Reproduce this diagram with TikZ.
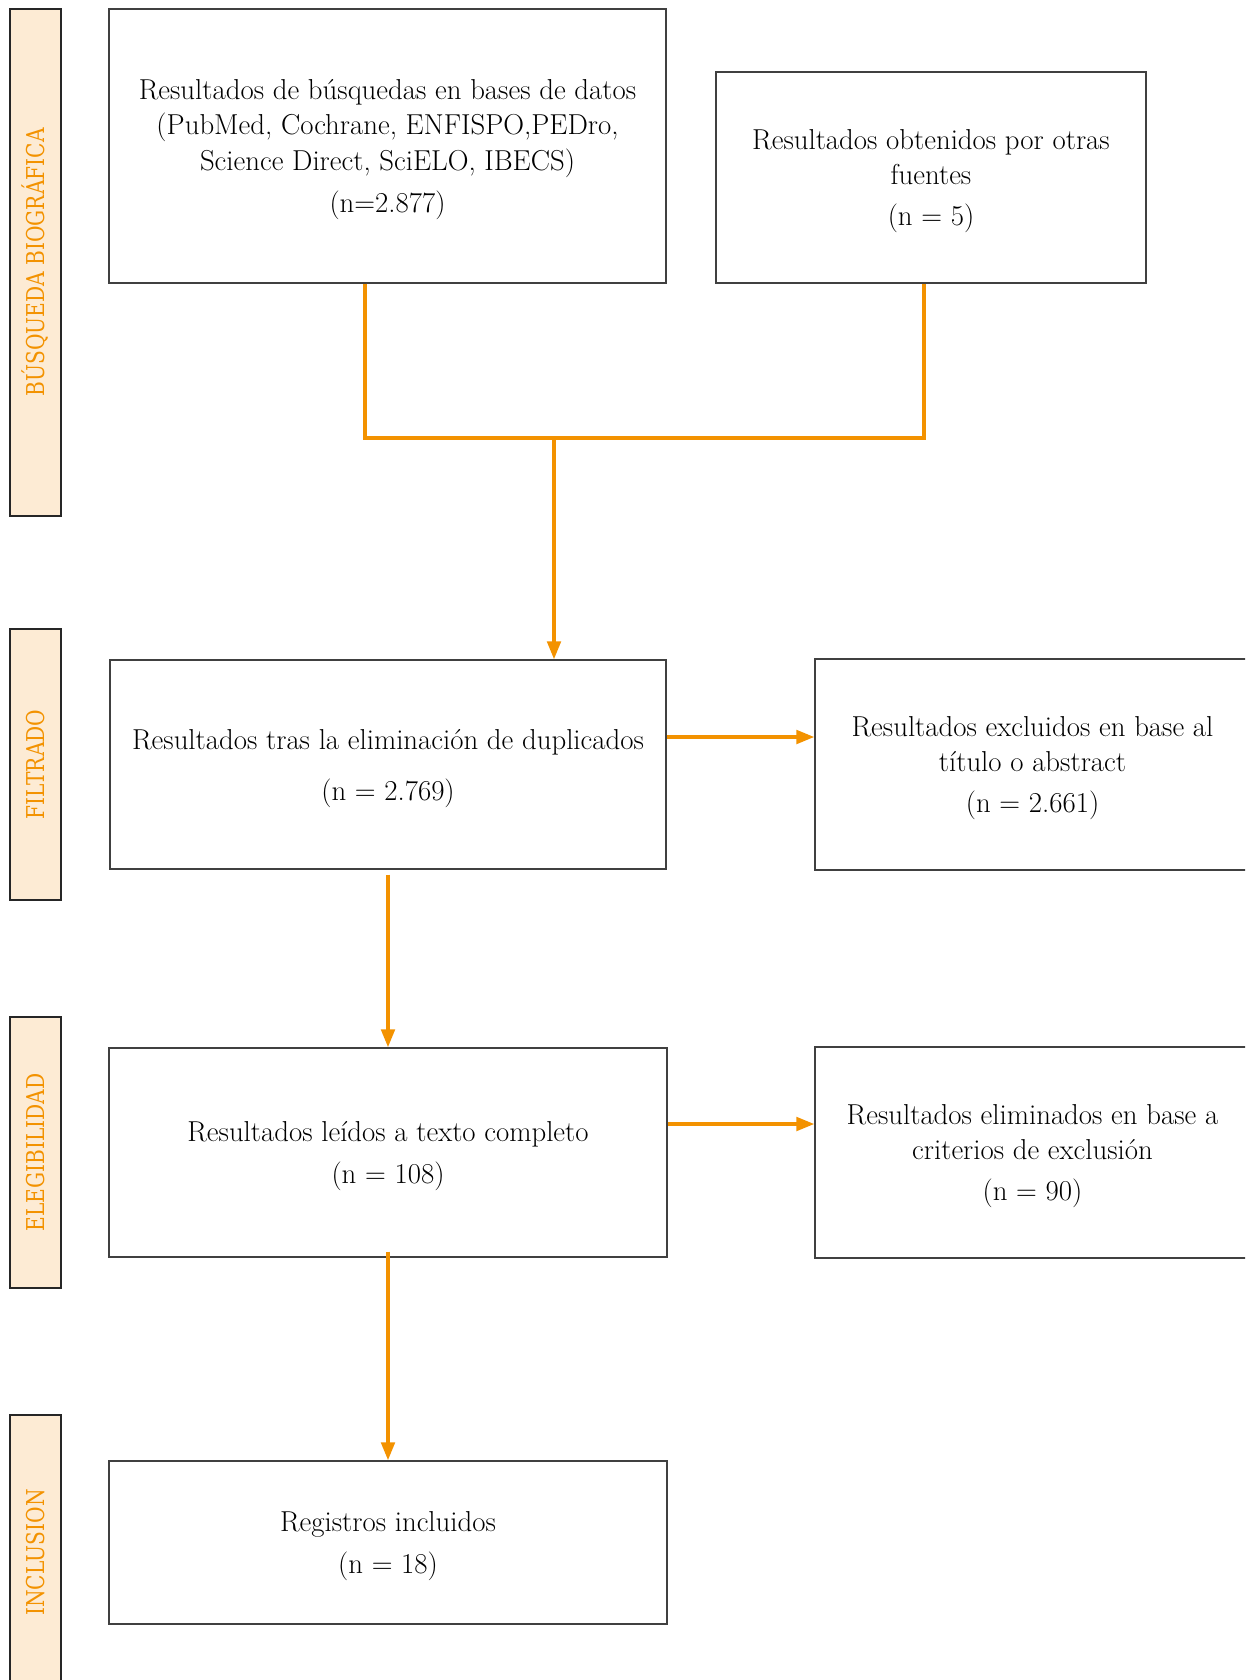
\documentclass[tikz,border=0pt]{standalone}
\usepackage{fontspec}
\newfontfamily\etapafont{DejaVu Serif}[FakeStretch=0.82]
\usetikzlibrary{arrows.meta}

\definecolor{naranja}{RGB}{243,146,0}
\definecolor{crema}{RGB}{253,235,212}
\definecolor{borde}{RGB}{64,64,64}

\tikzset{
  caja/.style={draw=borde, line width=0.8pt, align=center, inner sep=0pt,
    text depth=0pt, font=\fontsize{16.4}{20}\selectfont},
  etapa/.style={draw=black!85, fill=crema, line width=0.8pt, rotate=90,
    minimum height=1.02cm, inner sep=0pt, text=naranja,
    font=\etapafont\fontsize{14}{16}\selectfont},
  linea/.style={naranja, line width=2pt},
  flecha/.style={linea, -{Triangle[length=0.36cm,width=0.27cm]}}
}

\begin{document}
\begin{tikzpicture}[x=0.02cm,y=-0.02cm]

  % page
  \useasboundingbox (0,0) rectangle (1245,1680);
  \clip (0,0) rectangle (1245,1680);

  % stages
  \node[etapa, minimum width=10.14cm] (e1) at (35.5,262.5) {BÚSQUEDA BIOGRÁFICA};
  \node[etapa, minimum width=5.42cm] (e2) at (35.5,764.5) {FILTRADO};
  \node[etapa, minimum width=5.42cm] (e3) at (35.5,1152.5) {ELEGIBILIDAD};
  \node[etapa, minimum width=5.5cm] (e4) at (35.5,1552.5) {INCLUSION};

  % boxes
  \node[caja, minimum width=11.14cm, minimum height=5.48cm] (bases) at (387.5,146)
    {Resultados de búsquedas en bases de datos\\(PubMed, Cochrane, ENFISPO,PEDro,\\Science Direct, SciELO, IBECS)\\[4pt](n=2.877)};
  \node[caja, minimum width=8.6cm, minimum height=4.22cm] (otras) at (931,177.5)
    {Resultados obtenidos por otras\\fuentes\\[3pt](n = 5)};
  \node[caja, minimum width=11.12cm, minimum height=4.18cm] (dupl) at (388,764.5)
    {Resultados tras la eliminación de duplicados\\[9pt](n = 2.769)};
  \node[caja, minimum width=8.7cm, minimum height=4.22cm] (excl) at (1032.5,764.5)
    {Resultados excluidos en base al\\título o abstract\\[3pt](n = 2.661)};
  \node[caja, minimum width=11.16cm, minimum height=4.18cm] (leidos) at (388,1152.5)
    {Resultados leídos a texto completo\\[4pt](n = 108)};
  \node[caja, minimum width=8.7cm, minimum height=4.22cm] (elim) at (1032.5,1152.5)
    {Resultados eliminados en base a\\criterios de exclusión\\[3pt](n = 90)};
  \node[caja, minimum width=11.16cm, minimum height=3.26cm] (incl) at (388,1542.5)
    {Registros incluidos\\[4pt](n = 18)};

  % join the two searches
  \coordinate (j1) at (365,438);
  \coordinate (j2) at (924,438);
  \coordinate (j) at (554,438);
  \draw[linea] (bases.south -| j1) -- (j1) -- (j2) -- (otras.south -| j2);
  \draw[flecha] (j) -- (dupl.north -| j);

  % flow
  \draw[flecha] ([yshift=0.55cm]dupl.east) -- ([yshift=0.55cm]dupl.east -| excl.west);
  \draw[flecha] ([yshift=-0.1cm]dupl.south) -- (leidos.north);
  \draw[flecha] ([yshift=0.57cm]leidos.east) -- ([yshift=0.57cm]leidos.east -| elim.west);
  \draw[flecha] ([yshift=0.12cm]leidos.south) -- (incl.north);
\end{tikzpicture}
\end{document}
